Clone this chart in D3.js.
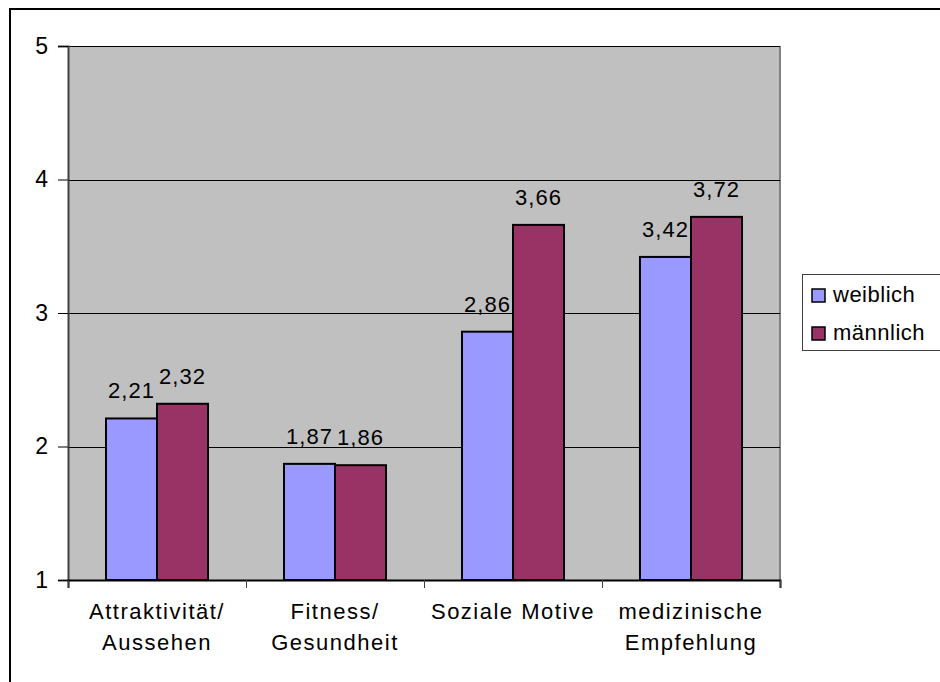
<!DOCTYPE html>
<html>
<head>
<meta charset="utf-8">
<script src="https://cdn.jsdelivr.net/npm/d3@7"></script>
<style>
  body { margin: 0; background: #fff; }
  svg text { font-family: "Liberation Sans", Arial, sans-serif; }
</style>
</head>
<body>
<div id="chart"></div>
<script>
// chart data
const categories = [["Attraktivität/", "Aussehen"], ["Fitness/", "Gesundheit"], ["Soziale Motive"], ["medizinische", "Empfehlung"]];
const seriesNames = ["weiblich", "männlich"];
const weiblich = [2.21, 1.87, 2.86, 3.42];
const maennlich = [2.32, 1.86, 3.66, 3.72];
const yTicks = [1, 2, 3, 4, 5];
const colors = ["#9999ff", "#993366"];

const W = 940, H = 682;
const plot = {left: 68, right: 780, top: 46, bottom: 580};

const svg = d3.select("#chart")
    .append("svg")
    .attr("width", W)
    .attr("height", H);

svg.append("rect").attr("width", W).attr("height", H).attr("fill", "#fff");

// outer frame (only top/left visible in picture)
svg.append("path")
    .attr("d", `M10,${H + 5} V9 H${W + 5}`)
    .attr("fill", "none")
    .attr("stroke", "#000")
    .attr("stroke-width", 2);

const catIdx = d3.range(categories.length);

const x = d3.scaleBand()
    .domain(catIdx)
    .range([plot.left, plot.right]);

const x1 = d3.scaleBand()
    .domain([0, 1])
    .range([0, x.bandwidth()])
    .paddingOuter(0.745)
    .paddingInner(0);

const y = d3.scaleLinear()
    .domain([1, 5])
    .range([plot.bottom, plot.top]);

// plot background
svg.append("rect")
    .attr("x", plot.left)
    .attr("y", plot.top)
    .attr("width", plot.right - plot.left)
    .attr("height", plot.bottom - plot.top)
    .attr("fill", "#c0c0c0");

svg.append("line")
    .attr("x1", plot.right).attr("x2", plot.right)
    .attr("y1", plot.top).attr("y2", plot.bottom)
    .attr("stroke", "#808080").attr("stroke-width", 2);

// gridlines
svg.append("g")
    .selectAll("line")
    .data(yTicks.slice(1))
    .join("line")
    .attr("x1", plot.left).attr("x2", plot.right)
    .attr("y1", d => Math.round(y(d)) + 0.5).attr("y2", d => Math.round(y(d)) + 0.5)
    .attr("stroke", "#000").attr("stroke-width", 1);

// bars
const bars = [];
catIdx.forEach(i => {
    bars.push({c: i, s: 0, v: weiblich[i]});
    bars.push({c: i, s: 1, v: maennlich[i]});
});

svg.append("g")
    .selectAll("rect")
    .data(bars)
    .join("rect")
    .attr("x", d => x(d.c) + x1(d.s))
    .attr("y", d => y(d.v))
    .attr("width", x1.bandwidth())
    .attr("height", d => y(1) - y(d.v))
    .attr("fill", d => colors[d.s])
    .attr("stroke", "#000")
    .attr("stroke-width", 2);

// value labels
svg.append("g")
    .selectAll("text")
    .data(bars)
    .join("text")
    .attr("x", d => x(d.c) + x1(d.s) + x1.bandwidth() / 2)
    .attr("y", d => y(d.v) - 20)
    .attr("text-anchor", "middle")
    .style("font-size", "22px")
    .style("letter-spacing", "1px")
    .text(d => d3.format(".2f")(d.v).replace(".", ","));

// y axis
const yAxis = svg.append("g")
    .attr("transform", `translate(${plot.left},0)`)
    .call(d3.axisLeft(y).tickValues(yTicks).tickSize(10).tickPadding(10).tickFormat(d3.format("d")));
yAxis.select(".domain").attr("stroke", "#404040").attr("stroke-width", 2);
yAxis.selectAll(".tick line").attr("stroke", "#000");
yAxis.selectAll("text")
    .style("font-family", "'Liberation Sans', Arial, sans-serif")
    .style("font-size", "23px")
    .attr("fill", "#000");

// x axis
const xAxis = svg.append("g")
    .attr("transform", `translate(0,${plot.bottom})`)
    .call(d3.axisBottom(d3.scaleLinear().domain([0, categories.length]).range([plot.left, plot.right]))
        .tickValues(d3.range(categories.length + 1)).tickSize(8).tickFormat(""));
xAxis.select(".domain").attr("stroke", "#000").attr("stroke-width", 2);
xAxis.selectAll(".tick line").attr("stroke", "#404040");

// category labels
const catLabels = svg.append("g")
    .selectAll("text")
    .data(catIdx)
    .join("text")
    .attr("x", d => x(d) + x.bandwidth() / 2)
    .attr("y", 619)
    .attr("text-anchor", "middle")
    .style("font-size", "22px")
    .style("letter-spacing", "1.5px");
catLabels.selectAll("tspan")
    .data(d => categories[d].map(t => ({t, c: d})))
    .join("tspan")
    .attr("x", d => x(d.c) + x.bandwidth() / 2)
    .attr("dy", (d, i) => i === 0 ? 0 : 31)
    .text(d => d.t);

// legend
const legend = svg.append("g");
legend.append("rect")
    .attr("x", 802.5).attr("y", 274.5)
    .attr("width", 150).attr("height", 76)
    .attr("fill", "#fff")
    .attr("stroke", "#404040").attr("stroke-width", 1);
seriesNames.forEach((name, i) => {
    const ly = 289 + i * 38;
    legend.append("rect")
        .attr("x", 812).attr("y", ly)
        .attr("width", 13).attr("height", 13)
        .attr("fill", colors[i])
        .attr("stroke", "#000").attr("stroke-width", 1.5);
    legend.append("text")
        .attr("x", 833).attr("y", ly + 13)
        .style("font-size", "22px")
        .style("letter-spacing", "0.5px")
        .text(name);
});
</script>
</body>
</html>
